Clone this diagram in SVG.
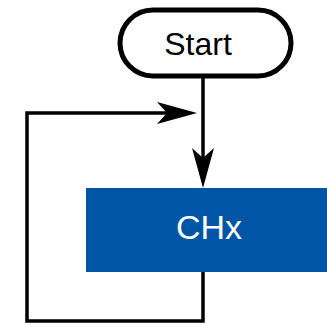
<svg xmlns="http://www.w3.org/2000/svg" width="327" height="325" viewBox="0 0 327 325">
  <style>
    .terminal { fill: #ffffff; stroke: #000000; stroke-width: 5; }
    .process { fill: #0055a6; }
    .edge { fill: none; stroke: #000000; stroke-width: 3.5; }
    .label { font-family: "Liberation Sans", Arial, sans-serif; text-anchor: middle; }
  </style>
  <defs>
    <marker id="arrow" markerUnits="userSpaceOnUse" viewBox="-10 -11 40 22" refX="0" refY="0" markerWidth="40" markerHeight="22" orient="auto" overflow="visible">
      <path d="M30,0 L-10,-11 L0,0 L-10,11 Z" fill="#000000"/>
    </marker>
  </defs>

  <g id="connectors">
    <!-- Start down into CHx -->
    <path class="edge" d="M203,76 V158" marker-end="url(#arrow)"/>
    <!-- loop back from CHx bottom to the entry line -->
    <path class="edge" d="M203,272 V321 H27 V113 H167" marker-end="url(#arrow)"/>
  </g>

  <g id="start">
    <rect class="terminal" x="120" y="10" width="171" height="66" rx="33" ry="33"/>
    <text class="label" x="198" y="55" font-size="32" fill="#000000">Start</text>
  </g>

  <g id="chx">
    <rect class="process" x="86" y="188" width="241" height="84"/>
    <text class="label" x="209" y="239" font-size="34" fill="#ffffff">CHx</text>
  </g>
</svg>
